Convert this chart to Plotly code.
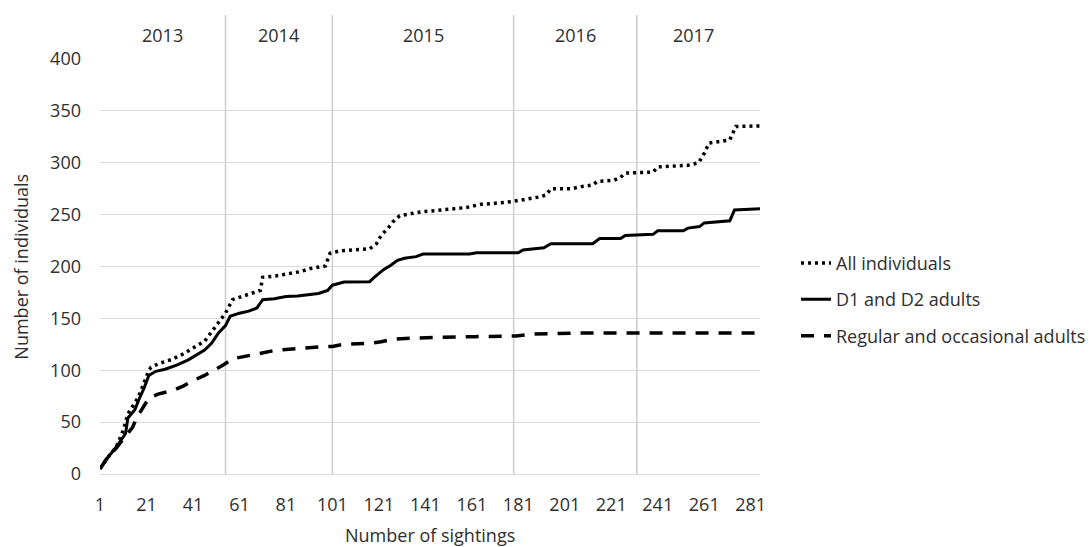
import plotly.graph_objects as go

# cumulative curves (sighting number -> individuals)
all_x = [1, 4, 8, 11, 13, 17.5, 20, 22, 23, 27, 32, 37, 42, 46, 49, 52, 55, 58, 61, 64, 70, 71, 77, 82, 87,
         91.5, 98, 100, 104, 117, 120, 122, 125, 127, 130, 135, 140, 146, 152, 159, 165, 169, 178, 186, 190,
         193, 195, 204, 208, 213, 215, 222, 225, 227, 239, 241, 254, 258.6, 261, 263, 272, 274.6, 285]
all_y = [5, 15, 26, 42, 58, 74, 88, 100, 103, 107, 110.5, 116, 122.7, 128, 137, 146, 155, 168, 170, 172.5,
         177, 189.6, 191, 193, 195, 198, 200.5, 212.7, 215, 217, 222, 230, 237, 243, 249, 251, 253, 254, 255,
         257, 260, 260.5, 262.5, 265, 267, 269, 275, 275, 277, 278.5, 282, 283, 286, 290, 291, 296, 297.5,
         300, 309, 319, 322, 335, 335.5]

d1d2_x = [1, 4, 8, 12, 13, 16, 18, 20, 22, 25, 29, 34, 39, 43, 46, 49, 52, 55, 57, 61, 65, 68.5, 71, 76, 81,
          86, 90, 95, 99, 101, 106, 117, 119, 121, 123, 126, 129, 132, 137, 140, 160, 163, 181, 183, 192,
          195, 213, 216, 225, 227, 239, 241, 252, 254, 259, 261, 272, 274, 282, 285]
d1d2_y = [5, 15, 26, 39, 54, 62, 73, 83, 95, 99, 101, 105, 110, 115, 119.5, 126, 136, 143, 152, 155, 157,
          160, 168, 169, 171, 171.5, 172.5, 174, 177, 182, 185, 185.4, 189.6, 193, 197, 201, 206, 208, 209.5,
          212, 212, 213.3, 213.3, 216, 218, 222, 222, 227, 227, 230, 231, 234.5, 234.5, 237, 238.5, 242, 244,
          254.4, 255, 255.7]

reg_x = [1, 4, 8, 12, 15, 17, 20, 22, 26, 33, 37, 41, 46, 50, 54, 58, 62, 67, 76, 86, 96, 101, 106, 117,
         122, 127, 135, 162, 180, 188, 213, 285]
reg_y = [5, 15, 25, 37, 45, 55, 66, 73, 77, 81, 85, 90, 95, 100, 105, 111, 113, 115, 119, 121, 122.7, 123,
         125, 126, 127.5, 130, 131, 132.4, 133, 135, 136, 136]

years = ["2013", "2014", "2015", "2016", "2017"]
year_starts = [1, 55, 101, 179, 232]
year_end = 281

x_ticks = list(range(1, 282, 20))

FONT = "Open Sans"
TXT = "#2e2e2e"

fig = go.Figure()
fig.add_trace(go.Scatter(x=all_x, y=all_y, mode="lines", name="All individuals", legendgroup="a",
                         line=dict(color="black", width=3.5, dash="3px,4px")))
fig.add_trace(go.Scatter(x=d1d2_x, y=d1d2_y, mode="lines", name="D1 and D2 adults", legendgroup="b",
                         line=dict(color="black", width=3)))
fig.add_trace(go.Scatter(x=reg_x, y=reg_y, mode="lines", name="Regular and occasional adults", legendgroup="c",
                         line=dict(color="black", width=3.5, dash="13px,10px")))

# year separators and labels above the plot
for b in year_starts[1:]:
    fig.add_shape(type="line", xref="x", yref="paper", x0=b, x1=b, y0=0, y1=1.106,
                  line=dict(color="#cccccc", width=1.5), layer="below")
ends = year_starts[1:] + [year_end]
for yr, s, e in zip(years, year_starts, ends):
    fig.add_annotation(x=(s + e) / 2, y=1.058, xref="x", yref="paper", text=yr, showarrow=False,
                       yanchor="middle", font=dict(family=FONT, size=18, color=TXT))

fig.add_annotation(x=0.5, y=-0.147, xref="paper", yref="paper", text="Number of sightings",
                   showarrow=False, xanchor="center", yanchor="middle",
                   font=dict(family=FONT, size=18, color=TXT))
fig.add_annotation(x=-0.121, y=0.5, xref="paper", yref="paper", text="Number of individuals",
                   textangle=-90, showarrow=False, xanchor="center", yanchor="middle",
                   font=dict(family=FONT, size=18, color=TXT))

fig.update_layout(
    width=1091, height=547,
    margin=dict(l=100, r=331, t=59, b=73),
    plot_bgcolor="white", paper_bgcolor="white",
    font=dict(family=FONT, size=18, color=TXT),
    legend=dict(xref="container", yref="container", x=0.7296, y=0.452, xanchor="left", yanchor="middle",
                tracegroupgap=10, font=dict(family=FONT, size=18, color=TXT), bgcolor="rgba(0,0,0,0)"),
)
fig.update_xaxes(range=[1, 285], tickvals=x_ticks, showgrid=False, zeroline=False,
                 showline=True, linecolor="#d9d9d9", linewidth=1, ticks="", ticklabelstandoff=14)
fig.update_yaxes(range=[0, 400], dtick=50, showgrid=True, gridcolor="#d9d9d9", gridwidth=1,
                 zeroline=False, ticks="", ticklabelstandoff=18)

# page body has a default 8px margin; drop it so the figure sits at the window corner
fig.write_html("out.html", config={"displayModeBar": False},
               post_script="document.body.style.margin='0';")
